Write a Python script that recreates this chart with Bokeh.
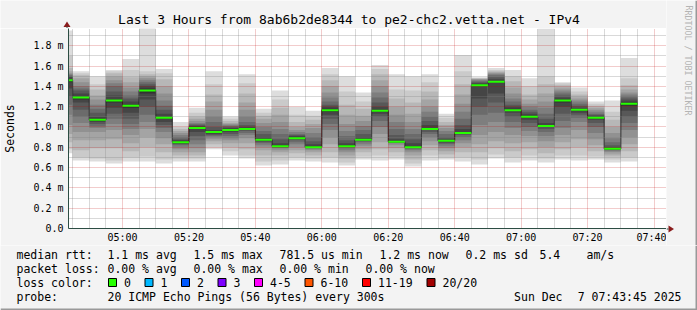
from bokeh.plotting import figure
from bokeh.layouts import column, row
from bokeh.models import Range1d, FixedTicker, PrintfTickFormatter, ColumnDataSource
from bokeh.core.properties import value
from bokeh.embed import file_html
from bokeh.resources import INLINE

# ---------------- data ----------------
title_text = "Last 3 Hours from 8ab6b2de8344 to pe2-chc2.vetta.net - IPv4"
x_start, x_end = "04:43:45", "07:43:45"
y_max = 1.97  # ms

x_tick_times = ["05:00", "05:20", "05:40", "06:00", "06:20", "06:40", "07:00", "07:20", "07:40"]
y_ticks = [0, 0.2, 0.4, 0.6, 0.8, 1.0, 1.2, 1.4, 1.6, 1.8]
y_minor = [0.1, 0.3, 0.5, 0.7, 0.9, 1.1, 1.3, 1.5, 1.7, 1.9]

# end time of each 5-minute probe round
bar_end = ["04:45", "04:50", "04:55", "05:00", "05:05", "05:10", "05:15", "05:20", "05:25",
           "05:30", "05:35", "05:40", "05:45", "05:50", "05:55", "06:00", "06:05", "06:10",
           "06:15", "06:20", "06:25", "06:30", "06:35", "06:40", "06:45", "06:50", "06:55",
           "07:00", "07:05", "07:10", "07:15", "07:20", "07:25", "07:30", "07:35"]

# median rtt per round (ms)
medians = [1.46, 1.29, 1.07, 1.26, 1.21, 1.36, 1.09, 0.85, 0.99, 0.95, 0.97, 0.98,
           0.875, 0.81, 0.89, 0.80, 1.165, 0.81, 0.875, 1.16, 0.855, 0.80, 0.98, 0.865,
           0.94, 1.41, 1.445, 1.165, 1.10, 1.01, 1.26, 1.17, 1.09, 0.785, 1.23]

# lost pings per round (out of 20)
loss = [0, 0, 0, 0, 0, 0, 0, 0, 0, 0, 0, 0, 0, 0, 0, 0, 0, 0,
        0, 0, 0, 0, 0, 0, 0, 0, 0, 0, 0, 0, 0, 0, 0, 0, 0]

# the 20 individual ping rtts (ms) of every round
pings = [
    [0.74, 0.78, 0.85, 0.93, 1.02, 1.12, 1.22, 1.30, 1.38, 1.44, 1.47, 1.49, 1.50, 1.51, 1.52, 1.53, 1.55, 1.58, 1.70, 1.95],
    [0.67, 0.70, 0.77, 0.87, 0.95, 1.04, 1.10, 1.17, 1.24, 1.27, 1.30, 1.33, 1.36, 1.38, 1.40, 1.44, 1.48, 1.51, 1.53, 1.55],
    [0.66, 0.69, 0.79, 0.87, 0.95, 0.99, 1.01, 1.03, 1.05, 1.06, 1.08, 1.10, 1.14, 1.18, 1.22, 1.27, 1.31, 1.37, 1.42, 1.50],
    [0.64, 0.67, 0.79, 0.88, 0.97, 1.03, 1.08, 1.13, 1.19, 1.24, 1.27, 1.31, 1.35, 1.40, 1.43, 1.46, 1.50, 1.53, 1.55, 1.56],
    [0.66, 0.70, 0.76, 0.84, 0.92, 0.98, 1.03, 1.08, 1.14, 1.19, 1.22, 1.25, 1.28, 1.31, 1.35, 1.39, 1.44, 1.49, 1.56, 1.67],
    [0.66, 0.71, 0.80, 0.90, 0.98, 1.05, 1.12, 1.20, 1.27, 1.33, 1.38, 1.40, 1.42, 1.44, 1.46, 1.48, 1.50, 1.52, 1.55, 2.05],
    [0.64, 0.68, 0.75, 0.83, 0.89, 0.95, 0.99, 1.02, 1.05, 1.08, 1.10, 1.13, 1.17, 1.21, 1.26, 1.33, 1.40, 1.47, 1.53, 1.57],
    [0.66, 0.69, 0.72, 0.75, 0.78, 0.80, 0.82, 0.83, 0.84, 0.84, 0.86, 0.87, 0.88, 0.90, 0.92, 0.94, 0.96, 0.98, 1.00, 1.05],
    [0.66, 0.69, 0.72, 0.75, 0.79, 0.83, 0.87, 0.91, 0.95, 0.98, 1.00, 1.01, 1.02, 1.03, 1.04, 1.06, 1.08, 1.10, 1.14, 1.19],
    [0.78, 0.80, 0.83, 0.86, 0.88, 0.90, 0.91, 0.92, 0.93, 0.94, 0.96, 0.97, 1.00, 1.05, 1.10, 1.17, 1.25, 1.32, 1.42, 1.55],
    [0.72, 0.76, 0.80, 0.84, 0.87, 0.89, 0.91, 0.93, 0.95, 0.96, 0.98, 0.99, 1.00, 1.01, 1.02, 1.03, 1.04, 1.06, 1.08, 1.10],
    [0.69, 0.72, 0.78, 0.84, 0.89, 0.92, 0.94, 0.96, 0.97, 0.97, 0.99, 1.00, 1.02, 1.05, 1.10, 1.17, 1.24, 1.33, 1.43, 1.52],
    [0.62, 0.66, 0.72, 0.77, 0.80, 0.82, 0.84, 0.85, 0.86, 0.87, 0.88, 0.90, 0.93, 0.96, 1.00, 1.04, 1.08, 1.11, 1.14, 1.18],
    [0.63, 0.67, 0.72, 0.75, 0.77, 0.79, 0.80, 0.80, 0.80, 0.81, 0.82, 0.84, 0.88, 0.93, 0.98, 1.05, 1.12, 1.19, 1.27, 1.36],
    [0.67, 0.70, 0.74, 0.77, 0.80, 0.83, 0.85, 0.87, 0.88, 0.89, 0.90, 0.91, 0.92, 0.93, 0.95, 0.97, 1.00, 1.05, 1.12, 1.20],
    [0.66, 0.69, 0.72, 0.75, 0.77, 0.78, 0.79, 0.80, 0.80, 0.80, 0.81, 0.83, 0.86, 0.90, 0.94, 0.99, 1.03, 1.07, 1.11, 1.16],
    [0.65, 0.70, 0.75, 0.83, 0.90, 0.97, 1.03, 1.08, 1.12, 1.15, 1.18, 1.20, 1.22, 1.25, 1.29, 1.34, 1.40, 1.46, 1.52, 1.58],
    [0.62, 0.65, 0.69, 0.72, 0.75, 0.77, 0.79, 0.80, 0.81, 0.81, 0.82, 0.84, 0.87, 0.91, 0.96, 1.03, 1.12, 1.22, 1.35, 1.50],
    [0.68, 0.71, 0.75, 0.78, 0.81, 0.83, 0.85, 0.86, 0.87, 0.87, 0.88, 0.90, 0.93, 0.97, 1.01, 1.06, 1.11, 1.18, 1.25, 1.34],
    [0.67, 0.72, 0.78, 0.85, 0.93, 1.00, 1.06, 1.10, 1.13, 1.15, 1.17, 1.20, 1.24, 1.29, 1.34, 1.40, 1.46, 1.52, 1.57, 1.61],
    [0.68, 0.71, 0.75, 0.79, 0.82, 0.84, 0.85, 0.85, 0.85, 0.85, 0.86, 0.88, 0.92, 0.98, 1.05, 1.12, 1.20, 1.28, 1.37, 1.52],
    [0.61, 0.64, 0.68, 0.72, 0.75, 0.77, 0.78, 0.79, 0.80, 0.80, 0.81, 0.84, 0.88, 0.93, 0.98, 1.05, 1.13, 1.24, 1.36, 1.50],
    [0.67, 0.72, 0.77, 0.82, 0.86, 0.90, 0.93, 0.95, 0.97, 0.98, 0.99, 1.02, 1.06, 1.10, 1.15, 1.20, 1.27, 1.35, 1.44, 1.52],
    [0.68, 0.70, 0.73, 0.76, 0.79, 0.81, 0.83, 0.84, 0.85, 0.86, 0.87, 0.88, 0.90, 0.93, 0.96, 0.99, 1.02, 1.05, 1.09, 1.13],
    [0.66, 0.70, 0.75, 0.80, 0.84, 0.87, 0.90, 0.92, 0.93, 0.94, 0.95, 0.98, 1.02, 1.08, 1.15, 1.23, 1.32, 1.42, 1.55, 1.71],
    [0.63, 0.68, 0.75, 0.83, 0.92, 1.02, 1.12, 1.20, 1.28, 1.40, 1.42, 1.43, 1.44, 1.45, 1.46, 1.47, 1.47, 1.48, 1.48, 1.49],
    [0.69, 0.73, 0.79, 0.86, 0.95, 1.05, 1.14, 1.24, 1.33, 1.44, 1.45, 1.47, 1.49, 1.51, 1.52, 1.53, 1.54, 1.55, 1.56, 1.58],
    [0.65, 0.70, 0.76, 0.84, 0.92, 0.99, 1.05, 1.10, 1.14, 1.16, 1.18, 1.20, 1.22, 1.25, 1.28, 1.33, 1.39, 1.45, 1.50, 1.56],
    [0.67, 0.72, 0.78, 0.85, 0.91, 0.96, 1.00, 1.04, 1.07, 1.09, 1.11, 1.13, 1.15, 1.17, 1.20, 1.23, 1.27, 1.32, 1.40, 1.48],
    [0.65, 0.69, 0.74, 0.80, 0.86, 0.91, 0.95, 0.98, 1.00, 1.01, 1.02, 1.04, 1.08, 1.13, 1.19, 1.25, 1.33, 1.42, 1.50, 1.97],
    [0.68, 0.72, 0.78, 0.85, 0.92, 0.99, 1.06, 1.13, 1.20, 1.24, 1.27, 1.29, 1.31, 1.33, 1.35, 1.37, 1.39, 1.41, 1.43, 1.44],
    [0.67, 0.72, 0.80, 0.88, 0.97, 1.05, 1.09, 1.12, 1.14, 1.16, 1.17, 1.19, 1.21, 1.23, 1.25, 1.27, 1.29, 1.32, 1.35, 1.39],
    [0.68, 0.71, 0.76, 0.82, 0.88, 0.94, 1.00, 1.04, 1.07, 1.08, 1.10, 1.11, 1.12, 1.13, 1.15, 1.17, 1.19, 1.21, 1.23, 1.25],
    [0.65, 0.68, 0.71, 0.73, 0.75, 0.76, 0.77, 0.78, 0.78, 0.78, 0.79, 0.80, 0.82, 0.85, 0.89, 0.94, 1.00, 1.07, 1.15, 1.26],
    [0.66, 0.70, 0.76, 0.83, 0.90, 0.97, 1.04, 1.10, 1.16, 1.21, 1.24, 1.26, 1.28, 1.30, 1.32, 1.34, 1.37, 1.41, 1.48, 1.68],
]

loss_labels = ["0", "1", "2", "3", "4-5", "6-10", "11-19", "20/20"]
loss_colors = ["#26ff00", "#00b8ff", "#0059ff", "#7e00ff", "#ff00fe", "#ff5500", "#ff0000", "#a10000"]
loss_upper = [0, 1, 2, 3, 5, 10, 19, 20]

stats_rtt = ["median rtt:", "1.1 ms avg", "1.5 ms max", "781.5 us min", "1.2 ms now", "0.2 ms sd", "5.4", "am/s"]
stats_loss = ["packet loss:", "0.00 % avg", "0.00 % max", "0.00 % min", "0.00 % now"]
probe_text = ["probe:", "20 ICMP Echo Pings (56 Bytes) every 300s"]
date_parts = ["Sun Dec", "7 07:43:45 2025"]   # "Sun Dec  7 07:43:45 2025"
watermark = "RRDTOOL / TOBI OETIKER"
y_label = "Seconds"
probe_step_min = 5

# ---------------- helpers ----------------
FONT = "DejaVu Sans Mono"
BG = "#f3f3f3"
AXIS = "#2c4d43"
ARROW = "#8a1c1c"
SHADE = "#999999"
W, H = 697, 310
FRAME_L, FRAME_R, FRAME_T, FRAME_B, SPLIT = 66, 666, 28, 228, 245
CW = 7.0  # legend char advance (px)


def to_min(s):
    parts = [int(v) for v in s.split(":")]
    return parts[0] * 60 + parts[1] + (parts[2] / 60.0 if len(parts) > 2 else 0.0)


def pixel_fig(x0, x1, y0, y1):
    """A decoration strip whose data coordinates are page pixels (y downwards)."""
    f = figure(width=x1 - x0, height=y1 - y0, output_backend="svg", toolbar_location=None,
               x_range=Range1d(x0, x1), y_range=Range1d(y1, y0),
               min_border=0, background_fill_color=BG, border_fill_color=BG,
               outline_line_color=None, x_axis_location=None, y_axis_location=None)
    f.xgrid.visible = False
    f.ygrid.visible = False
    return f


def put_text(f, x, y, t, size="11.5px", align="left", color="black", angle=0.0, font=FONT):
    f.text(x=[x], y=[y], text=[t], text_font=value(font), text_font_size=value(size),
           text_color=color, text_align=value(align), text_baseline=value("middle"), angle=angle)


# ---------------- main chart ----------------
ends = [to_min(t) for t in bar_end]
lefts = [e - probe_step_min for e in ends]
x_ticks = [int(to_min(t)) for t in x_tick_times]
x_minor = [m for m in range(int(to_min("04:45")), int(to_min(x_end)) + 1, 5) if m not in x_ticks]

p = figure(width=FRAME_R, height=SPLIT - FRAME_T, output_backend="svg", toolbar_location=None,
           x_range=Range1d(to_min(x_start), to_min(x_end)), y_range=Range1d(0, y_max),
           min_border_left=FRAME_L, min_border_right=0, min_border_top=0,
           min_border_bottom=SPLIT - FRAME_B,
           background_fill_color="white", border_fill_color=BG, outline_line_color=None)

half = 10
smoke = dict(left=[], right=[], bottom=[], top=[], color=[])
for i in range(half):
    c = int(190 / half * (half - (i + 1))) + 50
    col = "#%02x%02x%02x" % (c, c, c)
    for b, pl in enumerate(pings):
        s = sorted(pl)
        smoke["left"].append(lefts[b])
        smoke["right"].append(ends[b])
        smoke["bottom"].append(s[i])
        smoke["top"].append(s[len(s) - 1 - i])
        smoke["color"].append(col)
p.quad(source=ColumnDataSource(smoke), left="left", right="right", bottom="bottom", top="top",
       fill_color="color", line_color=None, level="image")

p.step(x=lefts + [ends[-1]], y=medians + [medians[-1]], mode="after",
       line_color="#202020", line_width=1, level="image")


def loss_color(n):
    for up, col in zip(loss_upper, loss_colors):
        if n <= up:
            return col
    return loss_colors[-1]


p.segment(x0=lefts, x1=ends, y0=medians, y1=medians,
          line_color=[loss_color(n) for n in loss], line_width=2)

xt = FixedTicker(ticks=x_ticks, minor_ticks=x_minor)
yt = FixedTicker(ticks=y_ticks, minor_ticks=y_minor)
p.xaxis.ticker = xt
p.yaxis.ticker = yt
p.xgrid.ticker = xt
p.ygrid.ticker = yt
p.xaxis.major_label_overrides = dict(zip(x_ticks, x_tick_times))
p.yaxis.formatter = PrintfTickFormatter(format="%.1f m")
p.yaxis.major_label_overrides = {0: "0.0"}

for ax in (p.xaxis[0], p.yaxis[0]):
    ax.axis_line_color = AXIS
    ax.axis_line_width = 1
    ax.major_tick_in = 0
    ax.major_tick_out = 0
    ax.minor_tick_in = 0
    ax.minor_tick_out = 0
    ax.major_label_text_font = FONT
    ax.major_label_text_font_size = "10px"
    ax.major_label_text_color = "black"
p.xaxis.major_label_standoff = 3
p.yaxis.major_label_standoff = 5
p.yaxis.axis_label = y_label
p.yaxis.axis_label_text_font = FONT
p.yaxis.axis_label_text_font_size = "11.5px"
p.yaxis.axis_label_text_font_style = "normal"
p.yaxis.axis_label_text_color = "black"
p.yaxis.axis_label_standoff = 13

for g in (p.xgrid[0], p.ygrid[0]):
    g.grid_line_color = "#c00000"
    g.grid_line_alpha = 0.4
    g.grid_line_dash = "1 1"
    g.minor_grid_line_color = "#808080"
    g.minor_grid_line_alpha = 0.6
    g.minor_grid_line_dash = "1 1"

# ---------------- title strip (above chart) ----------------
top = pixel_fig(0, FRAME_R, 0, FRAME_T)
put_text(top, 348.5, 19, title_text, size="13px", align="center")
top.patch(x=[63, 66.5, 70], y=[26.5, 21, 26.5], fill_color=ARROW, line_color=None)
top.segment(x0=[66.5], x1=[66.5], y0=[26], y1=[28], line_color=AXIS, line_width=1)

# ---------------- right strip (full height of the upper block) ----------------
side = pixel_fig(FRAME_R, W, 0, SPLIT)
put_text(side, 688, 5, watermark, size="8.3px", color="#b4b4b4", angle=-1.5708)
side.patch(x=[668, 673.5, 668], y=[225, 228.5, 232], fill_color=ARROW, line_color=None)
side.segment(x0=[666], x1=[668], y0=[228.5], y1=[228.5], line_color=AXIS, line_width=1)
side.quad(left=[695], right=[W], top=[0], bottom=[SPLIT], fill_color=SHADE, line_color=None)

# ---------------- legend strip (below chart) ----------------
leg = pixel_fig(0, W, SPLIT, H)
for t, x in zip(stats_rtt, [16, 107, 193, 279, 379, 465, 539, 586]):
    put_text(leg, x, 254, t)
for t, x in zip(stats_loss, [16, 107, 193, 279, 365]):
    put_text(leg, x, 268, t)
put_text(leg, 16, 282, "loss color:")
sx = 108
sq_l, sq_r = [], []
for t, c in zip(loss_labels, loss_colors):
    sq_l.append(sx)
    sq_r.append(sx + 8)
    put_text(leg, sx + 15.5, 282, t)
    sx = sx + 15.5 + CW * len(t) + 14
leg.quad(left=sq_l, right=sq_r, top=[278] * len(sq_l), bottom=[286] * len(sq_l),
         fill_color=loss_colors, line_color="black", line_width=1)
put_text(leg, 16, 296, probe_text[0])
put_text(leg, 107, 296, probe_text[1])
put_text(leg, 681, 296, date_parts[1], align="right")
put_text(leg, 681 - CW * (len(date_parts[1]) + 2), 296, date_parts[0], align="right")
leg.quad(left=[0], right=[W], top=[308], bottom=[H], fill_color=SHADE, line_color=None)
leg.quad(left=[695], right=[W], top=[SPLIT], bottom=[H], fill_color=SHADE, line_color=None)

# nested single-child columns keep bokeh from aligning the strips' frames with the chart frame
upper = row(column(column(top), p, spacing=0), column(side), spacing=0)
layout = column(upper, leg, spacing=0)
open("out.html", "w").write(file_html(layout, INLINE))
